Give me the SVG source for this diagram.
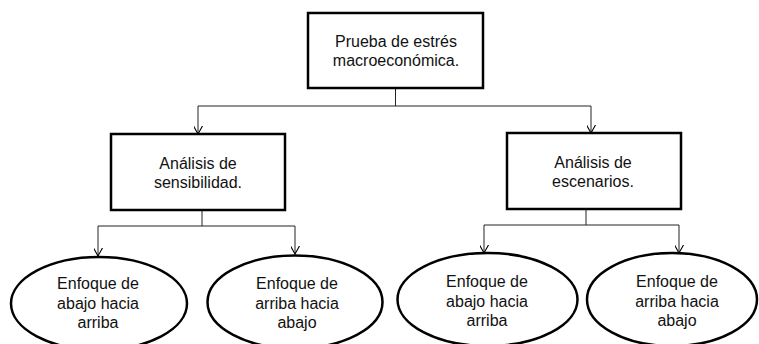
<svg xmlns="http://www.w3.org/2000/svg" width="759" height="344" viewBox="0 0 759 344">
<defs>
<marker id="arr" viewBox="0 0 10 10" refX="9" refY="5" markerWidth="9" markerHeight="9" markerUnits="userSpaceOnUse" orient="auto">
<path d="M0,0 L9,5 L0,10" fill="none" stroke="#000" stroke-width="1.2"/>
</marker>
</defs>
<style>
.box{fill:#fff;stroke:#000;stroke-width:2.5}
.ell{fill:#fff;stroke:#000;stroke-width:2.5}
.ln{fill:none;stroke:#222;stroke-width:1}
.t{font-family:"Liberation Sans",Arial,sans-serif;font-size:16px;fill:#111;text-anchor:middle}
</style>
<rect width="759" height="344" fill="#fff"/>
<g id="connectors">
<path class="ln" d="M395.5,88 V106 M198,106 H591"/>
<path class="ln" d="M198,106 V134" marker-end="url(#arr)"/>
<path class="ln" d="M591,106 V133" marker-end="url(#arr)"/>
<path class="ln" d="M202,210 V226 M98,226 H295"/>
<path class="ln" d="M98,226 V256" marker-end="url(#arr)"/>
<path class="ln" d="M295,226 V254" marker-end="url(#arr)"/>
<path class="ln" d="M586,209 V225 M484,225 H679"/>
<path class="ln" d="M484,225 V253" marker-end="url(#arr)"/>
<path class="ln" d="M679,225 V253" marker-end="url(#arr)"/>
</g>
<g id="root">
<rect class="box" x="308" y="13" width="175" height="75"/>
<text class="t" x="396" y="47">Prueba de estrés</text>
<text class="t" x="396" y="66">macroeconómica.</text>
</g>
<g id="sensibilidad">
<rect class="box" x="111" y="134" width="174" height="76"/>
<text class="t" x="198" y="169">Análisis de</text>
<text class="t" x="198" y="188">sensibilidad.</text>
</g>
<g id="escenarios">
<rect class="box" x="507" y="133" width="174" height="76"/>
<text class="t" x="593" y="168">Análisis de</text>
<text class="t" x="593" y="187">escenarios.</text>
</g>
<g id="sens-abajo-arriba">
<ellipse class="ell" cx="99" cy="303.5" rx="88" ry="46.5"/>
<text class="t" x="98" y="289">Enfoque de</text>
<text class="t" x="98" y="309">abajo hacia</text>
<text class="t" x="98" y="328">arriba</text>
</g>
<g id="sens-arriba-abajo">
<ellipse class="ell" cx="295" cy="302" rx="87.5" ry="46.5"/>
<text class="t" x="297" y="289">Enfoque de</text>
<text class="t" x="297" y="309">arriba hacia</text>
<text class="t" x="297" y="328">abajo</text>
</g>
<g id="esc-abajo-arriba">
<ellipse class="ell" cx="487.5" cy="299.5" rx="90" ry="46.5"/>
<text class="t" x="487" y="287">Enfoque de</text>
<text class="t" x="487" y="307">abajo hacia</text>
<text class="t" x="487" y="326">arriba</text>
</g>
<g id="esc-arriba-abajo">
<ellipse class="ell" cx="672" cy="299.5" rx="85" ry="46.5"/>
<text class="t" x="677" y="287">Enfoque de</text>
<text class="t" x="677" y="307">arriba hacia</text>
<text class="t" x="677" y="326">abajo</text>
</g>
</svg>
